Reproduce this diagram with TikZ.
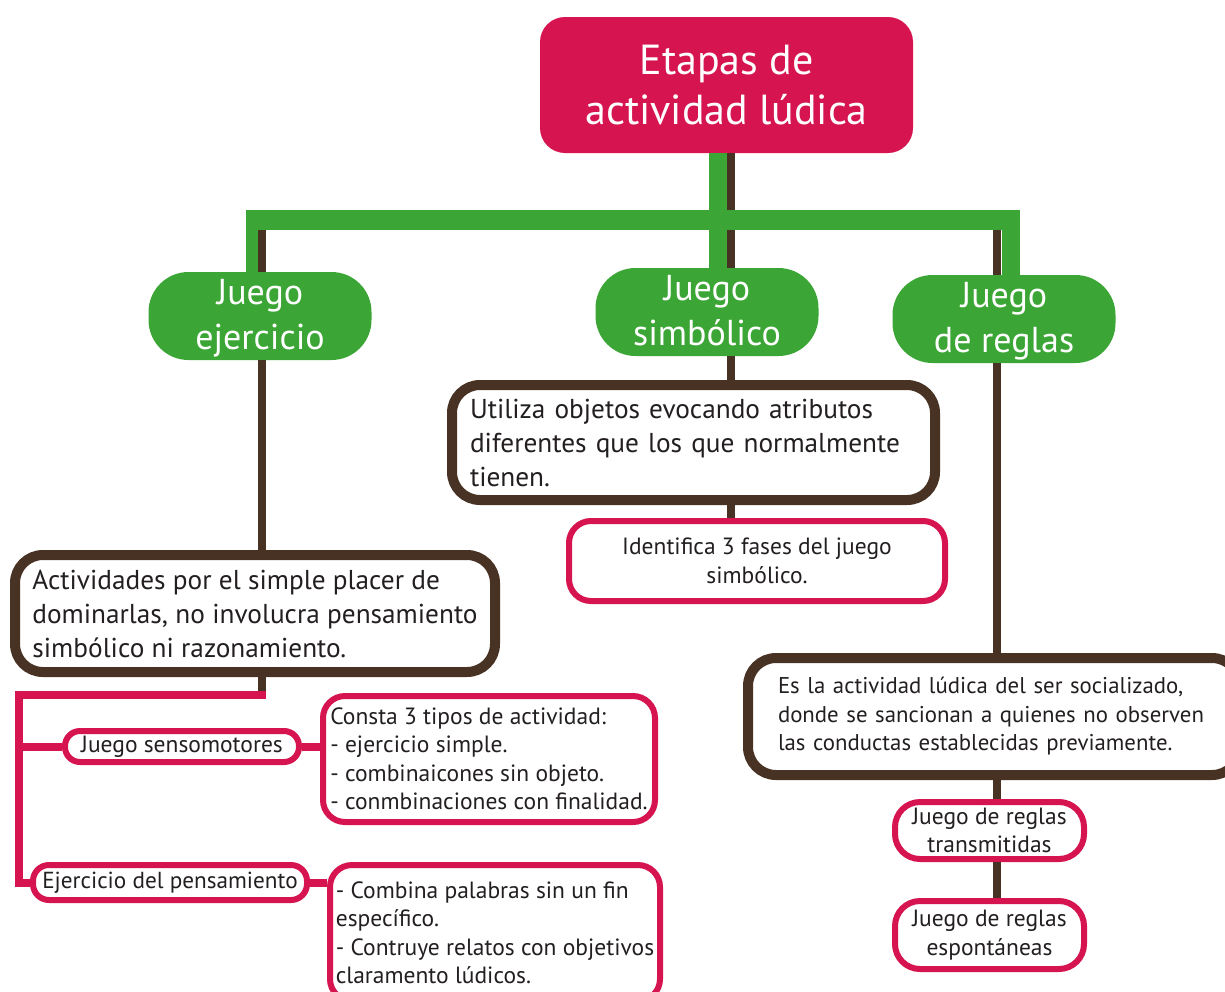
\documentclass[tikz,border=0pt]{standalone}
\usepackage{fontspec}
\setmainfont{PT Sans}

\definecolor{rojo}{RGB}{213,20,80}
\definecolor{verde}{RGB}{59,166,53}
\definecolor{cafe}{RGB}{72,50,35}
\definecolor{texto}{RGB}{35,31,32}

\begin{document}
\begin{tikzpicture}[x=1pt,y=-1pt,
		titulo/.style={fill=rojo, text=white, rounded corners=25pt, minimum width=373pt, minimum height=136pt, align=center, text depth=-12pt, font=\fontsize{42}{50}\selectfont},
		etapa/.style={fill=verde, text=white, rounded corners=40pt, minimum width=223pt, minimum height=88pt, align=center, text depth=3pt, font=\fontsize{36}{45}\selectfont},
		caja/.style={draw=cafe, line width=10pt, fill=white, rounded corners=28pt, text=texto, align=left, inner xsep=8pt, font=\fontsize{27.3}{34}\selectfont},
		cajarosa/.style={draw=rojo, line width=6pt, fill=white, rounded corners=22pt, text=texto, inner sep=0pt, font=\fontsize{23.5}{28.5}\selectfont},
		verdelinea/.style={verde, line width=18pt},
		cafelinea/.style={cafe, line width=8pt},
		rosalinea/.style={rojo, line width=8pt}]
		% page size of the reference
		\clip (0,0) rectangle (1225,991);
		
		% top
		\node[titulo] (titulo) at (726.5,85) {Etapas de\\actividad lúdica};
		
		% the three kinds of play
		\node[etapa] (ejer) at (260,316) {Juego\\ejercicio};
		\node[etapa] (simb) at (707,312) {Juego\\simbólico};
		\node[etapa] (regl) at (1004,319) {Juego\\de reglas};
		
		% juego simbolico
		\node[caja, minimum width=483pt, minimum height=115pt, inner xsep=18pt, text width=447pt] (util) at (693.5,442.5) {Utiliza objetos evocando atributos\\diferentes que los que normalmente\\tienen.};
		\node[cajarosa, minimum width=376pt, minimum height=80pt, align=center] (fases) at (757,561) {Identifica 3 fases del juego\\simbólico.};
		
		% juego ejercicio
		\node[caja, minimum width=480pt, minimum height=117pt] (activ) at (255,613.5) {Actividades por el simple placer de\\dominarlas, no involucra pensamiento\\simbólico ni razonamiento.};
		\node[cajarosa, rounded corners=15pt, minimum width=234pt, minimum height=31pt, font=\fontsize{23.5}{25}\selectfont] (sens) at (182,746.5) {Juego sensomotores};
		\node[cajarosa, minimum width=332pt, minimum height=126pt, align=left] (consta) at (489,759) {Consta 3 tipos de actividad:\\- ejercicio simple.\\- combinaicones sin objeto.\\- conmbinaciones con finalidad.};
		\node[cajarosa, rounded corners=16pt, minimum width=274pt, minimum height=35pt, font=\fontsize{23.2}{25}\selectfont] (pens) at (170,882.5) {Ejercicio del pensamiento};
		\node[cajarosa, minimum width=330pt, minimum height=136pt, align=left] (comb) at (495,933) {- Combina palabras sin un fin\\específico.\\- Contruye relatos con objetivos\\claramento lúdicos.};
		
		% juego de reglas
		\node[caja, minimum width=492pt, minimum height=117pt, inner xsep=30pt, text width=432pt, font=\fontsize{22.8}{28.5}\selectfont] (esla) at (994,716.5) {Es la actividad lúdica del ser socializado,\\donde se sancionan a quienes no observen\\las conductas establecidas previamente.};
		\node[cajarosa, rounded corners=25pt, minimum width=189pt, minimum height=57pt, align=center] (trans) at (989.5,830.5) {Juego de reglas\\transmitidas};
		\node[cajarosa, rounded corners=25pt, minimum width=189pt, minimum height=68pt, align=center] (espont) at (989.5,935) {Juego de reglas\\espontáneas};
		
		\coordinate (barL) at (252,220);
		\coordinate (barR) at (1011,220);
		\coordinate (brk) at (19,695);
		
		% brown lines
		\draw[cafelinea] ([xshift=4.5pt]titulo.south) -- ([xshift=4.5pt]titulo.south |- simb.north);
		\draw[cafelinea] ([xshift=4.5pt]titulo.south |- simb.south) -- ([xshift=4.5pt]titulo.south |- util.north);
		\draw[cafelinea] ([xshift=4.5pt]titulo.south |- util.south) -- ([xshift=4.5pt]titulo.south |- fases.north);
		\draw[cafelinea] ([xshift=10pt]barL) -- ([xshift=10pt]barL |- ejer.north);
		\draw[cafelinea] ([xshift=2pt]ejer.south) -- ([xshift=2pt]ejer.south |- activ.north);
		\draw[cafelinea] ([xshift=7pt]activ.south) -- ([xshift=7pt]activ.south |- brk);
		\draw[cafelinea] ([xshift=-14pt]barR) -- ([xshift=-14pt]barR |- regl.north);
		\draw[cafelinea] ([xshift=-7pt]regl.south) -- ([xshift=-7pt]regl.south |- esla.north);
		\draw[cafelinea] ([xshift=7.5pt]trans.north |- esla.south) -- ([xshift=7.5pt]trans.north);
		\draw[cafelinea] ([xshift=7.5pt]trans.south) -- ([xshift=7.5pt]espont.north);
		
		% green lines
		\draw[verdelinea] ([xshift=-8.5pt]titulo.south) -- ([xshift=-8.5pt]titulo.south |- simb.north);
		\draw[verdelinea, line width=20pt] ([xshift=-6pt]barL) -- ([xshift=9pt]barR);
		\draw[verdelinea, line width=12pt] ([yshift=10pt]barL) -- (barL |- ejer.north);
		\draw[verdelinea] ([yshift=10pt]barR) -- (barR |- regl.north);
		
		% pink lines
		\draw[rosalinea] ([xshift=11pt]activ.south |- brk) -- (brk) |- (pens.west);
		\draw[rosalinea] (brk |- sens.west) -- (sens.west);
		\draw[rosalinea] (sens.east) -- (sens.east -| consta.west);
		\draw[rosalinea] (pens.east) -- (pens.east -| comb.west);
\end{tikzpicture}
\end{document}
